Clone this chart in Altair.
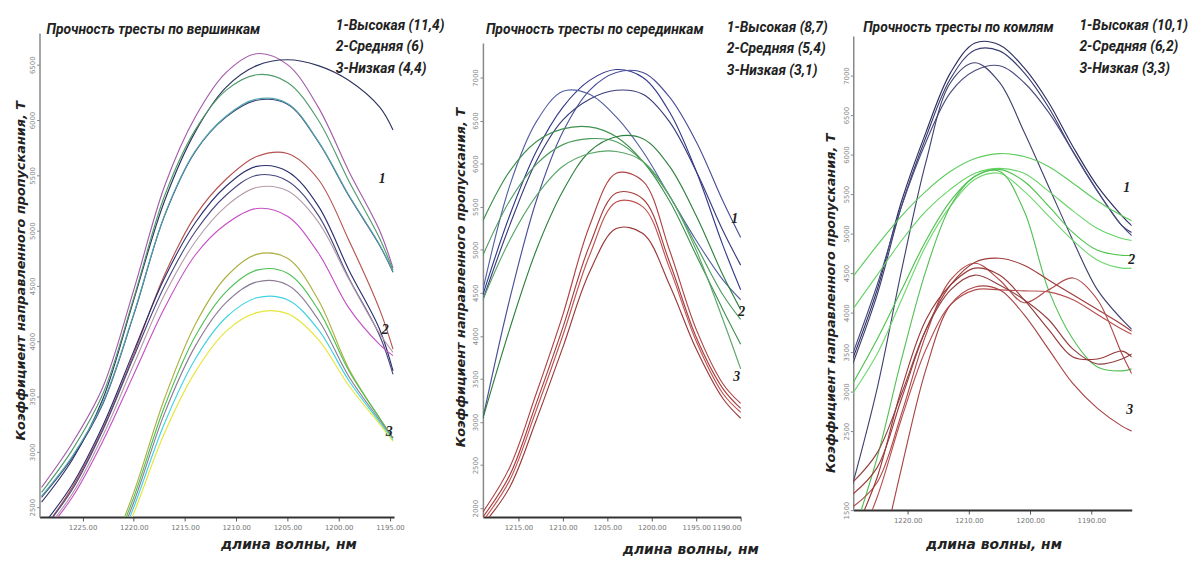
import altair as alt
import pandas as pd

# ---------------- data ----------------
# Panel 1: Прочность тресты по вершинкам
wl_1 = [1229.0, 1226.0, 1223.0, 1220.0, 1217.0, 1214.0, 1211.0, 1208.0, 1205.0, 1202.0, 1199.0, 1196.0, 1194.7]
p1_names = ["h1", "h2", "h3", "h4", "h5", "m1", "m2", "m3", "m4", "m5", "l1", "l2", "l3", "l4", "l5"]
p1_h1 = [2679, 3080, 3589, 4465, 5402, 6027, 6429, 6600, 6501, 6117, 5536, 5000, 4661]
p1_h2 = [2545, 2929, 3482, 4375, 5268, 5893, 6295, 6492, 6545, 6492, 6358, 6117, 5911]
p1_h3 = [2634, 3018, 3527, 4393, 5313, 5911, 6268, 6410, 6340, 6001, 5447, 4929, 4643]
p1_h4 = [2589, 2947, 3438, 4241, 5134, 5715, 6027, 6179, 6143, 5804, 5313, 4866, 4625]
p1_h5 = [2600, 2960, 3450, 4250, 5140, 5720, 6035, 6190, 6150, 5810, 5320, 4870, 4630]
p1_m1 = [2277, 2679, 3214, 3884, 4599, 5134, 5465, 5670, 5697, 5465, 4911, 4286, 3929]
p1_m2 = [2321, 2705, 3241, 3911, 4572, 5072, 5402, 5581, 5536, 5224, 4643, 4107, 3732]
p1_m3 = [2280, 2660, 3200, 3860, 4500, 4990, 5320, 5500, 5450, 5140, 4570, 4050, 3700]
p1_m4 = [2250, 2620, 3150, 3790, 4420, 4900, 5220, 5390, 5360, 5080, 4560, 4070, 3900]
p1_m5 = [2230, 2590, 3100, 3700, 4300, 4780, 5060, 5200, 5130, 4800, 4300, 3970, 3870]
p1_l1 = [None, None, 1920, 2634, 3482, 4152, 4581, 4786, 4750, 4375, 3750, 3304, 3125]
p1_l2 = [None, None, 1893, 2589, 3411, 4045, 4447, 4643, 4616, 4286, 3732, 3304, 3125]
p1_l3 = [None, None, 1857, 2545, 3348, 3956, 4349, 4536, 4509, 4197, 3679, 3286, 3125]
p1_l4 = [None, None, 1821, 2500, 3259, 3840, 4215, 4393, 4375, 4107, 3643, 3268, 3107]
p1_l5 = [None, None, 1786, 2446, 3170, 3723, 4090, 4259, 4250, 4018, 3598, 3250, 3098]
p1_colors = ["#a45ba9", "#2e3460", "#4f9c6b", "#3a3f78", "#52a6aa",
             "#b5524f", "#2a2f6e", "#48487f", "#b59cab", "#c650c6",
             "#aeb043", "#4cc052", "#8c7b97", "#3fd2e2", "#e6e63c"]

# Panel 2: Прочность тресты по серединкам
wl_2 = [1219.0, 1216.0, 1213.0, 1210.0, 1207.0, 1204.0, 1201.0, 1198.0, 1195.0, 1192.0, 1190.0]
p2_names = ["n1", "n2", "n3", "n4", "g1", "g2", "g3", "g4", "r1", "r2", "r3", "r4"]
p2_n1 = [4478, 5395, 6141, 6657, 6967, 7093, 7001, 6599, 5911, 5051, 4535]
p2_n2 = [3044, 4420, 5567, 6370, 6852, 7058, 7058, 6772, 6255, 5567, 5143]
p2_n3 = [4420, 5280, 6026, 6508, 6749, 6852, 6806, 6485, 5911, 5223, 4822]
p2_n4 = [4535, 5739, 6485, 6840, 6806, 6542, 6141, 5625, 5108, 4650, 4420]
p2_g1 = [5338, 5911, 6255, 6404, 6427, 6313, 6026, 5567, 4936, 4305, 3904]
p2_g2 = [4936, 5567, 5992, 6221, 6290, 6255, 6026, 5625, 5051, 4478, 4191]
p2_g3 = [3044, 4076, 4994, 5682, 6141, 6313, 6290, 5969, 5395, 4707, 4305]
p2_g4 = [4420, 5108, 5625, 5969, 6118, 6141, 6026, 5625, 4994, 4191, 3617]
p2_r1 = [1954, 2470, 3331, 4248, 5280, 5888, 5797, 4994, 4076, 3445, 3216]
p2_r2 = [1897, 2379, 3216, 4099, 5051, 5659, 5590, 4856, 3984, 3388, 3158]
p2_r3 = [1851, 2321, 3136, 4007, 4936, 5556, 5498, 4787, 3938, 3331, 3113]
p2_r4 = [1805, 2241, 3021, 3870, 4741, 5246, 5189, 4592, 3847, 3273, 3044]
p2_colors = ["#33398a", "#4a4f98", "#3a3c7c", "#5560a2",
             "#3f904f", "#4c9c5c", "#2f803f", "#5aa56a",
             "#b04242", "#a83c3c", "#c05252", "#9c3838"]

# Panel 3: Прочность тресты по комлям
wl_3 = [1229.0, 1225.0, 1221.0, 1217.0, 1213.0, 1209.0, 1205.0, 1201.0, 1197.0, 1193.0, 1189.0, 1185.0, 1183.4]
p3_names = ["na", "nb", "nc", "nd", "g1", "g2", "g3", "g4", "g5", "r1", "r2", "r3", "r4", "r5", "r6"]
p3_na = [3413, 4288, 5413, 6288, 7038, 7413, 7388, 7100, 6663, 6100, 5600, 5225, 5100]
p3_nb = [3350, 4225, 5350, 6225, 6963, 7325, 7313, 7038, 6600, 6038, 5538, 5100, 5013]
p3_nc = [3475, 4350, 5350, 6163, 6788, 7063, 7125, 6913, 6538, 6038, 5538, 5100, 4975]
p3_nd = [1825, 3038, 4538, 5913, 6913, 7163, 6913, 6288, 5600, 4913, 4288, 3913, 3788]
p3_g1 = [4450, 4850, 5225, 5538, 5788, 5950, 6013, 5975, 5850, 5638, 5413, 5225, 5163]
p3_g2 = [4038, 4475, 4913, 5288, 5563, 5763, 5825, 5763, 5538, 5288, 5063, 4938, 4913]
p3_g3 = [3100, 3663, 4288, 4913, 5413, 5725, 5813, 5663, 5350, 5013, 4788, 4725, 4725]
p3_g4 = [2975, 3475, 4163, 4850, 5350, 5688, 5763, 5538, 5225, 4913, 4663, 4563, 4563]
p3_g5 = [1163, 2163, 3413, 4538, 5350, 5725, 5788, 5288, 4288, 3663, 3313, 3263, 3288]
p3_r1 = [1700, 2038, 2913, 3788, 4350, 4638, 4688, 4600, 4413, 4225, 4038, 3850, 3763]
p3_r2 = [1538, 1850, 2725, 3725, 4413, 4625, 4413, 4125, 4288, 4438, 4163, 3475, 3225]
p3_r3 = [1163, 1913, 3038, 3913, 4350, 4563, 4475, 4163, 3788, 3438, 3413, 3513, 3438]
p3_r4 = [913, 1663, 2663, 3538, 4100, 4288, 4288, 4275, 4263, 4163, 3975, 3788, 3725]
p3_r5 = [None, 663, 2038, 3288, 4100, 4325, 4288, 3975, 3538, 3100, 2788, 2563, 2500]
p3_r6 = [1850, 2225, 2975, 3788, 4288, 4475, 4350, 4163, 3913, 3538, 3350, 3413, 3475]
p3_colors = ["#2c2f5e", "#3a3d70", "#4a4d80", "#40436f",
             "#5ccc5c", "#66d466", "#4dc44d", "#70d870", "#55c055",
             "#a03c3c", "#b04848", "#983838", "#b85050", "#a84444", "#904040"]

# tick values / labels
p1_xticks = [1225, 1220, 1215, 1210, 1205, 1200, 1195]
p1_yticks = [2500, 3000, 3500, 4000, 4500, 5000, 5500, 6000, 6500]
p2_xticks = [1215, 1210, 1205, 1200, 1195, 1190]
p2_yticks = [2000, 2500, 3000, 3500, 4000, 4500, 5000, 5500, 6000, 6500, 7000]
p3_xticks = [1220, 1210, 1200, 1190]
p3_yticks = [1500, 2500, 3000, 3500, 4000, 4500, 5000, 5500, 6000, 6500, 7000]

p1_title = "Прочность тресты по вершинкам"
p2_title = "Прочность тресты по серединкам"
p3_title = "Прочность тресты по комлям"
p1_legend = ["1-Высокая (11,4)", "2-Средняя (6)", "3-Низкая (4,4)"]
p2_legend = ["1-Высокая (8,7)", "2-Средняя (5,4)", "3-Низкая (3,1)"]
p3_legend = ["1-Высокая (10,1)", "2-Средняя (6,2)", "3-Низкая (3,3)"]
curve_labels = ["1", "2", "3"]

X_TITLE = "длина волны, нм"
Y_TITLE = "Коэффициент направленного пропускания, Т"

LABEL_FONT = "Roboto"
WIDE = "DejaVu Sans"


def build_df(wl, names, series, colors):
    rows = []
    for name, vals, col in zip(names, series, colors):
        for w, v in zip(wl, vals):
            if v is not None:
                rows.append({"wl": w, "T": v, "curve": name, "col": col})
    return pd.DataFrame(rows)


one = pd.DataFrame({"k": [0]})


def txt(s, x, y, font=LABEL_FONT, size=14, align="left", color="#222"):
    return alt.Chart(one).mark_text(
        text=s, font=font, fontSize=size, fontStyle="italic", fontWeight="bold",
        align=align, baseline="middle", color=color
    ).encode(x=alt.value(x), y=alt.value(y))


def panel(df, xdom, xrng, width, ydom, yrng, height, xticks, yticks,
          xtitle_x, xtitle_y, ytitle_x, ytitle_y, title, title_xy,
          legend, legend_x, legend_y0, labels_xy):
    lines = alt.Chart(df).mark_line(clip=True, strokeWidth=1.15, interpolate="catmull-rom").encode(
        x=alt.X("wl:Q",
                scale=alt.Scale(domain=xdom, range=xrng, nice=False, zero=False),
                axis=alt.Axis(values=xticks, format=".2f", title=X_TITLE, grid=False,
                              domainColor="#333", domainWidth=2, tickColor="#555", tickSize=4,
                              labelFontSize=7, labelColor="#777", labelPadding=3, labelFont=WIDE,
                              titleFont=WIDE, titleFontSize=14, titleFontWeight="bold",
                              titleFontStyle="italic", titleColor="#222",
                              titleX=xtitle_x, titleY=xtitle_y, titleAlign="center",
                              titleBaseline="middle")),
        y=alt.Y("T:Q",
                scale=alt.Scale(domain=ydom, range=yrng, nice=False, zero=False),
                axis=alt.Axis(values=yticks, format="d", title=Y_TITLE, grid=False,
                              domainColor="#888", domainWidth=1.5, tickColor="#888", tickSize=3,
                              labelFontSize=7, labelColor="#888", labelAngle=270, labelPadding=1,
                              labelFont=WIDE, titleFont=WIDE, titleFontSize=13,
                              titleFontWeight="bold", titleFontStyle="italic", titleColor="#222",
                              titleX=ytitle_x, titleY=ytitle_y, titleAlign="center",
                              titleBaseline="middle")),
        color=alt.Color("col:N", scale=None),
        detail="curve:N",
    )
    layers = [lines, txt(title, title_xy[0], title_xy[1], size=14)]
    for i, s in enumerate(legend):
        layers.append(txt(s, legend_x, legend_y0 + 21.5 * i, size=14))
    for s, (lx, ly) in zip(curve_labels, labels_xy):
        layers.append(txt(s, lx, ly, font="Liberation Serif", size=14, align="center"))
    return alt.layer(*layers).properties(width=width, height=height)


df1 = build_df(wl_1, p1_names, [p1_h1, p1_h2, p1_h3, p1_h4, p1_h5, p1_m1, p1_m2, p1_m3, p1_m4, p1_m5,
                                p1_l1, p1_l2, p1_l3, p1_l4, p1_l5], p1_colors)
df2 = build_df(wl_2, p2_names, [p2_n1, p2_n2, p2_n3, p2_n4, p2_g1, p2_g2, p2_g3, p2_g4,
                                p2_r1, p2_r2, p2_r3, p2_r4], p2_colors)
df3 = build_df(wl_3, p3_names, [p3_na, p3_nb, p3_nc, p3_nd, p3_g1, p3_g2, p3_g3, p3_g4, p3_g5,
                                p3_r1, p3_r2, p3_r3, p3_r4, p3_r5, p3_r6], p3_colors)

c1 = panel(df1, [1194.6, 1229.2], [359, 0], 359, [2411, 6786], [490, 0], 490,
           p1_xticks, p1_yticks, 252, 28, -19, 240,
           p1_title, (7, -3), p1_legend, 300, -7,
           [(347, 148), (350, 301), (354, 404)])
c2 = panel(df2, [1190, 1219], [261, 0], 285, [1897, 7401], [490, 10], 490,
           p2_xticks, p2_yticks, 210, 33, -23, 247,
           p2_title, (3, -3), p2_legend, 247, -5,
           [(255, 188), (262, 282), (257, 348)])
c3 = panel(df3, [1183.4, 1228.9], [282, 0], 282, [1500, 7500], [483, 3], 483,
           p3_xticks, p3_yticks, 142, 35, -23, 273,
           p3_title, (10, -5), p3_legend, 229, -7,
           [(277, 157), (282, 230), (280, 382)])

chart = alt.hconcat(c1, c2, c3, spacing=90, bounds="flush").properties(
    padding={"left": 15, "top": 16, "right": 2, "bottom": 2},
    background="white",
).configure_view(stroke=None)

chart.save("out.html", embed_options={"renderer": "svg", "actions": False})
